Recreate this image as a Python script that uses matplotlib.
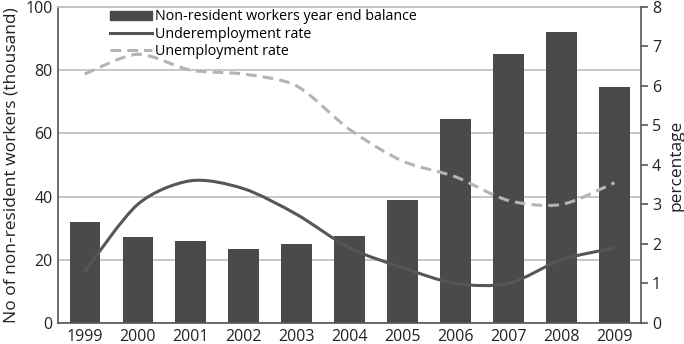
import matplotlib
matplotlib.use("Agg")
import matplotlib.pyplot as plt
from matplotlib.path import Path
from matplotlib.patches import PathPatch
from matplotlib.lines import Line2D
from matplotlib.patches import Patch

plt.rcParams['font.family'] = ['Open Sans', 'DejaVu Sans']

years = ["1999", "2000", "2001", "2002", "2003", "2004", "2005", "2006", "2007", "2008", "2009"]
nonresident = [32, 27.2, 26, 23.4, 25, 27.5, 39, 64.5, 85, 92, 74.7]
underemployment = [1.3, 3.0, 3.6, 3.4, 2.75, 1.9, 1.4, 1.0, 1.0, 1.6, 1.9]
unemployment = [6.3, 6.8, 6.4, 6.3, 6.0, 4.9, 4.1, 3.7, 3.1, 3.0, 3.55]

BAR = "#4a4a4a"
UNDER = "#565656"
UNEMP = "#b4b4b4"
GRID = "#bdbdbd"
SPINE = "#555555"


def smooth_path(xs, ys, tension=6.0):
    """Cubic Bezier path through the points (Catmull-Rom style tangents)."""
    n = len(xs)
    verts = [(xs[0], ys[0])]
    codes = [Path.MOVETO]
    for i in range(n - 1):
        x0, y0 = (xs[i - 1], ys[i - 1]) if i > 0 else (xs[i], ys[i])
        x1, y1 = xs[i], ys[i]
        x2, y2 = xs[i + 1], ys[i + 1]
        x3, y3 = (xs[i + 2], ys[i + 2]) if i + 2 < n else (x2, y2)
        c1 = (x1 + (x2 - x0) / tension, y1 + (y2 - y0) / tension)
        c2 = (x2 - (x3 - x1) / tension, y2 - (y3 - y1) / tension)
        verts += [c1, c2, (x2, y2)]
        codes += [Path.CURVE4] * 3
    return Path(verts, codes)


fig = plt.figure(figsize=(6.84, 3.44), dpi=100)
ax = fig.add_axes([0.085, 0.061, 0.852, 0.919])
x = list(range(len(years)))

ax.bar(x, nonresident, width=0.57, color=BAR, zorder=2)
ax.set_ylim(0, 100)
ax.set_xlim(-0.5, 10.5)
ax.set_yticks(range(0, 101, 20))
ax.yaxis.grid(True, color=GRID, linewidth=1.2, zorder=0)
ax.set_axisbelow(True)
ax.set_xticks(x)
ax.set_xticklabels(years)
ax.tick_params(axis="both", labelsize=11.5, length=0, colors="#222222", pad=4)
ax.set_ylabel("No of non-resident workers (thousand)", fontsize=12.5, color="#222222", labelpad=4)
for s in ["left", "bottom"]:
    ax.spines[s].set_color(SPINE)
    ax.spines[s].set_linewidth(1.2)
ax.spines["top"].set_color(GRID)
ax.spines["top"].set_linewidth(1.2)
ax.spines["right"].set_visible(False)

ax2 = ax.twinx()
ax2.set_ylim(0, 8)
ax2.set_yticks(range(0, 9))
ax2.tick_params(axis="y", labelsize=11.5, length=5, width=1.2, color=SPINE, labelcolor="#222222", pad=3)
ax2.spines["right"].set_color(SPINE)
ax2.spines["right"].set_linewidth(1.2)
for s in ["left", "top", "bottom"]:
    ax2.spines[s].set_visible(False)
ax2.set_ylabel("percentage", fontsize=12.5, color="#222222", labelpad=5)

ax2.add_patch(PathPatch(smooth_path(x, unemployment, 7.0), fill=False, edgecolor=UNEMP,
                        linewidth=2.2, linestyle=(0, (3.5, 2.0)), zorder=3))
ax2.add_patch(PathPatch(smooth_path(x, underemployment, 7.0), fill=False, edgecolor=UNDER,
                        linewidth=2.2, zorder=3))

handles = [
    Patch(facecolor=BAR, edgecolor=BAR),
    Line2D([0], [0], color=UNDER, linewidth=2.2),
    Line2D([0], [0], color=UNEMP, linewidth=2.2, linestyle=(0, (3.5, 2.0))),
]
labels = ["Non-resident workers year end balance", "Underemployment rate", "Unemployment rate"]
ax2.legend(handles, labels, loc="upper left", bbox_to_anchor=(0.08, 1.01), frameon=False,
           fontsize=10.3, handlelength=2.9, handleheight=0.6, labelspacing=0.16,
           handletextpad=0.2, borderaxespad=0)

fig.savefig("out.png", dpi=100)
